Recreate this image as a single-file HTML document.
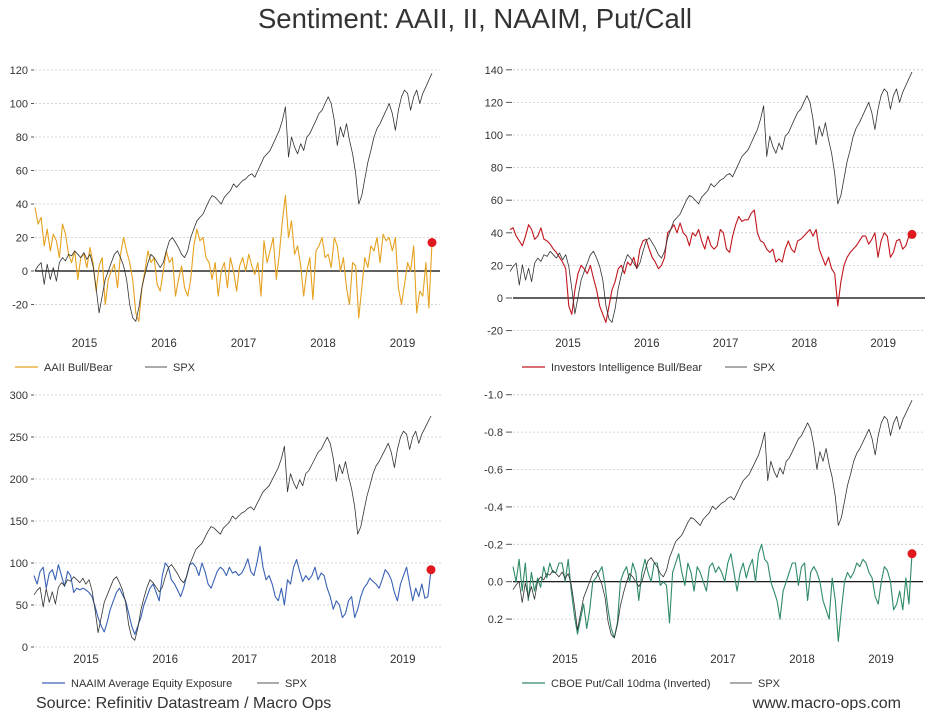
<!DOCTYPE html>
<html><head><meta charset="utf-8">
<style>
html,body{margin:0;padding:0;background:#fff;}
body{width:946px;height:710px;overflow:hidden;font-family:"Liberation Sans",sans-serif;}
svg text{font-family:"Liberation Sans",sans-serif;}
</style></head>
<body>
<svg id="chart" width="946" height="710" viewBox="0 0 946 710" xmlns="http://www.w3.org/2000/svg">
<text x="475" y="28" text-anchor="middle" font-size="27.5" fill="#333">Sentiment: AAII, II, NAAIM, Put/Call</text>
<text x="36" y="708" font-size="16" fill="#333">Source: Refinitiv Datastream / Macro Ops</text>
<text x="901" y="708" text-anchor="end" font-size="16" fill="#333">www.macro-ops.com</text>
</svg>
<script>
const years = [2015, 2016, 2017, 2018, 2019];
// SPX overlay in panel-1 units (biweekly)
const spx = [0,3,5,-8,4,-5,2,-6,5,8,6,10,9,12,10,8,
11,7,10,3,-10,-25,-15,-5,0,5,10,12,8,
3,-5,-20,-28,-30,-22,-10,-2,5,10,8,5,2,
5,12,18,20,17,14,10,8,12,20,25,30,32,
34,38,42,45,44,42,40,44,46,48,52,50,52,
54,55,57,58,56,60,64,68,70,72,76,80,84,
90,98,68,80,74,70,76,72,80,82,86,90,94,
96,100,104,100,90,75,86,80,88,78,70,58,40,
45,55,65,72,80,85,88,92,96,100,94,84,96,
104,108,106,96,104,108,100,106,110,114,118];
const aaii = [38,28,32,15,25,12,22,18,8,28,22,10,5,12,-5,8,
10,2,14,5,-12,3,8,-20,-5,0,4,-10,10,
20,12,5,-5,-25,-30,-10,0,12,5,8,-8,-12,
0,12,5,8,-15,-5,3,-10,-15,-5,15,25,18,
20,8,5,-5,5,-15,0,5,-10,8,0,-12,3,
8,0,10,3,-2,5,-15,18,5,12,20,-5,10,
30,45,20,30,10,15,3,-15,0,8,-17,12,15,
20,8,10,2,20,15,0,8,-10,-20,5,3,-28,
-10,8,2,15,12,20,5,22,18,20,12,20,-10,
-20,-8,5,0,15,-25,-12,-15,5,-22,17];
const ii = [42,43,38,35,32,38,45,42,36,38,43,36,35,33,30,28,
25,22,18,-5,-10,5,15,20,18,15,20,12,5,
-5,-10,-15,-5,5,10,18,20,15,22,20,25,18,
30,35,36,30,25,22,18,20,25,40,42,45,40,
46,40,38,32,40,38,42,35,30,38,32,30,32,
42,40,30,28,38,45,50,47,48,48,52,54,40,
35,34,30,28,30,22,24,22,30,35,30,28,35,
36,38,40,42,38,42,30,25,20,25,18,15,-5,
10,20,25,28,30,32,35,38,38,33,36,40,25,
35,40,38,25,28,35,36,30,32,38,39];
const naaim = [85,75,90,95,70,88,92,80,98,85,72,90,85,65,70,68,
70,68,65,60,48,35,25,18,30,45,55,65,70,
62,55,40,25,15,25,35,50,60,70,75,65,55,
85,100,95,80,75,68,60,70,85,98,100,95,85,
100,90,75,70,80,90,95,92,85,95,88,90,85,
88,95,105,90,85,100,120,95,80,85,75,60,55,
70,50,80,75,95,104,90,78,85,80,85,95,80,
88,85,70,60,45,55,50,35,40,55,60,35,45,
60,70,75,82,78,75,70,80,92,88,80,65,55,
75,85,95,75,55,70,60,75,58,60,92];
const putcall = [-0.08,0.0,-0.12,0.05,-0.1,0.1,-0.05,0.05,-0.02,0.03,-0.08,-0.02,-0.1,-0.05,-0.05,-0.1,
-0.1,0.0,-0.12,0.05,0.18,0.28,0.2,0.12,0.25,0.15,0.0,-0.02,-0.05,
-0.08,0.02,0.15,0.25,0.3,0.22,0.0,-0.05,-0.08,0.0,-0.1,-0.05,0.1,
-0.05,-0.12,-0.05,0.0,-0.1,-0.1,0.02,0.0,0.02,0.22,-0.05,-0.1,-0.15,
-0.05,0.02,-0.1,-0.05,0.05,-0.08,-0.05,0.0,0.05,-0.08,-0.1,-0.05,-0.08,
-0.05,0.0,-0.1,-0.15,-0.05,0.05,-0.05,-0.1,-0.02,-0.08,-0.12,0.0,-0.15,
-0.2,-0.12,-0.1,0.0,0.05,0.1,0.2,0.05,0.0,-0.05,-0.1,-0.1,0.02,
-0.08,-0.1,0.1,-0.05,-0.08,-0.05,0.0,0.1,0.15,0.2,-0.02,0.1,0.32,
0.15,0.0,-0.05,-0.02,-0.05,-0.1,-0.08,-0.12,-0.1,-0.05,-0.02,0.08,0.12,
0.0,-0.08,-0.06,0.0,0.15,0.12,0.05,0.15,-0.02,0.12,-0.15];
const ticks1 = [120,100,80,60,40,20,0,-20];
const ticks2 = [140,120,100,80,60,40,20,0,-20];
const ticks3 = [300,250,200,150,100,50,0];
const ticks4 = [-1.0,-0.8,-0.6,-0.4,-0.2,0.0,0.2];
const tickLabels4 = ["-1.0","-0.8","-0.6","-0.4","-0.2","0.0","0.2"];

const NS = "http://www.w3.org/2000/svg";
const svg = document.getElementById('chart');
function mk(tag, attrs, parent){
  const e = document.createElementNS(NS, tag);
  for (const k in attrs) e.setAttribute(k, attrs[k]);
  (parent||svg).appendChild(e);
  return e;
}

const panels = [
 {key:'aaii', series:aaii, color:'#e5a11f', ticks:ticks1, labels:null,
  y0:271, k:-1.675, gx0:35, gx1:440, lx:28, dx0:35, dx1:432, yAx:84.5, ppy:79.5, yearY:347,
  zero:true, spxA:0, spxB:1, legY:367, legX:15, legText:'AAII Bull/Bear', spxLegX:145},
 {key:'ii', series:ii, color:'#c0161e', ticks:ticks2, labels:null,
  y0:298, k:-1.63, gx0:513, gx1:925, lx:503, dx0:510, dx1:912, yAx:568, ppy:78.8, yearY:347,
  zero:true, spxA:16.2, spxB:1.038, legY:367, legX:522, legText:'Investors Intelligence Bull/Bear', spxLegX:725},
 {key:'naaim', series:naaim, color:'#3a62b5', ticks:ticks3, labels:null,
  y0:647, k:-0.84, gx0:35, gx1:442, lx:28, dx0:34, dx1:431, yAx:86, ppy:79.2, yearY:663,
  zero:false, spxA:62.1, spxB:1.804, legY:683, legX:42, legText:'NAAIM Average Equity Exposure', spxLegX:257},
 {key:'putcall', series:putcall, color:'#2e8b66', ticks:ticks4, labels:tickLabels4,
  y0:581.7, k:187, gx0:513, gx1:923, lx:503, dx0:513, dx1:912, yAx:565, ppy:79, yearY:663,
  zero:true, spxA:0.0426, spxB:-0.00858, legY:683, legX:522, legText:'CBOE Put/Call 10dma (Inverted)', spxLegX:730}
];

panels.forEach(p => {
  const g = mk('g', {});
  
  
  const yS = v => p.y0 + v * p.k;
  const n = p.series.length;
  const xS = i => p.dx0 + i * (p.dx1 - p.dx0) / (n - 1);
  p.ticks.forEach((t, j) => {
    const y = yS(t);
    const gl = mk('line', {x1:p.gx0, x2:p.gx1, y1:y, y2:y, stroke:'#c8c8c8', 'stroke-width':0.8, 'stroke-dasharray':'2,2'}, g);
    
    
    const tm = mk('line', {x1:p.lx+3, x2:p.gx0-1, y1:y, y2:y, stroke:'#555', 'stroke-width':1}, g);
    
    
    const tx = mk('text', {x:p.lx, y:y+4, 'text-anchor':'end', 'font-size':11, fill:'#333'}, g);
    
    
    tx.textContent = p.labels ? p.labels[j] : String(t);
  });
  if (p.zero) {
    const z = mk('line', {x1:p.gx0, x2:p.gx1, y1:yS(0), y2:yS(0), stroke:'#000', 'stroke-width':1.2}, g);
    
    
  }
  years.forEach(yr => {
    const tx = mk('text', {x:p.yAx + (yr - 2015) * p.ppy, y:p.yearY, 'text-anchor':'middle', 'font-size':11.5, fill:'#333'}, g);
    
    
    tx.textContent = yr;
  });
  const d1 = p.series.map((v, i) => (i ? 'L' : 'M') + xS(i).toFixed(1) + ',' + yS(v).toFixed(1)).join('');
  const s1 = mk('path', {d:d1, fill:'none', stroke:p.color, 'stroke-width':1.1, 'stroke-linejoin':'round'}, g);
  
  
  const ns = spx.length;
  const d2 = spx.map((v, i) => (i ? 'L' : 'M') + (p.dx0 + i * (p.dx1 - p.dx0) / (ns - 1)).toFixed(1) + ',' + yS(p.spxA + p.spxB * v).toFixed(1)).join('');
  const s2 = mk('path', {d:d2, fill:'none', stroke:'#333', 'stroke-width':0.8, 'stroke-linejoin':'round'}, g);
  
  
  const dot = mk('circle', {cx:xS(n-1), cy:yS(p.series[n-1]), r:4.5, fill:'#e0191c'}, g);
  
  
  const l1 = mk('line', {x1:p.legX, x2:p.legX+23, y1:p.legY, y2:p.legY, stroke:p.color, 'stroke-width':1.3}, g);
  
  
  const t1 = mk('text', {x:p.legX+29, y:p.legY+4, 'font-size':11, fill:'#333'}, g);
  
  
  t1.textContent = p.legText;
  const l2 = mk('line', {x1:p.spxLegX, x2:p.spxLegX+22, y1:p.legY, y2:p.legY, stroke:'#555', 'stroke-width':1}, g);
  
  
  const t2 = mk('text', {x:p.spxLegX+28, y:p.legY+4, 'font-size':11, fill:'#333'}, g);
  
  
  t2.textContent = 'SPX';
});
</script>
</body></html>
